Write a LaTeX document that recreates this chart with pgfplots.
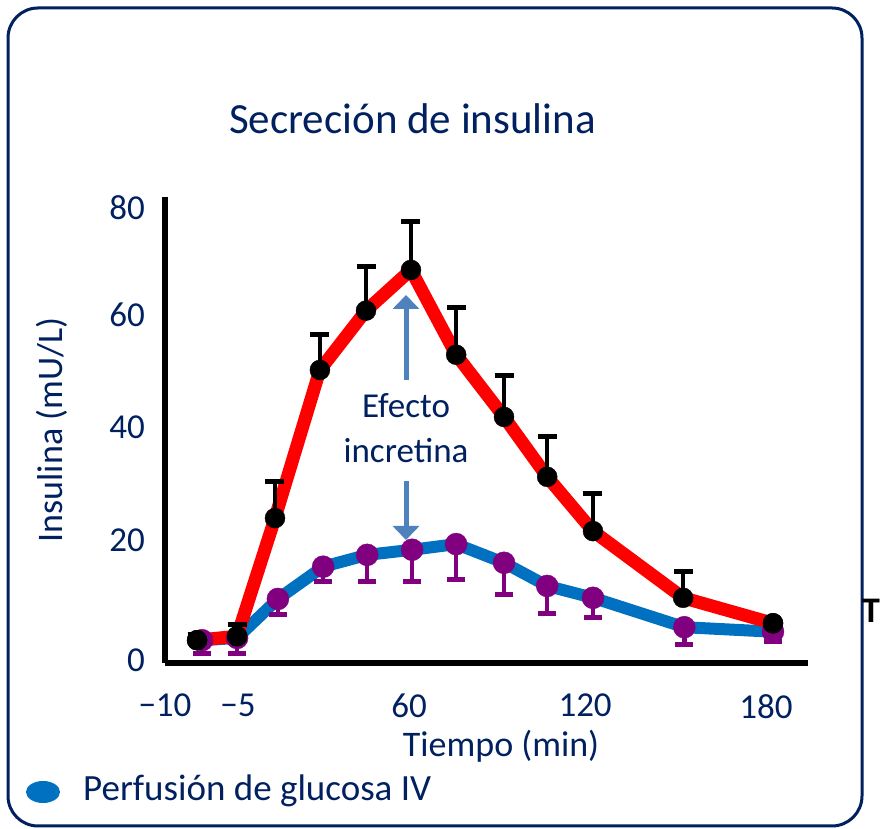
\documentclass[border=0pt]{standalone}
\usepackage{pgfplots}
\pgfplotsset{compat=1.18}
\usepackage{pgfplotstable}
\usepackage{fontspec}
\setmainfont{Carlito}
\usetikzlibrary{arrows.meta}
\definecolor{navy}{RGB}{0,32,96}
\definecolor{blueline}{RGB}{0,112,192}
\definecolor{purp}{RGB}{128,0,128}
\definecolor{arrowblue}{RGB}{79,129,189}

\pgfplotstableread{
x y e
-13 3.5 1.0
0.7 4.2 2.0
13.7 25.1 6.4
29.1 51.3 6.2
44.9 61.8 7.8
60.3 69.0 8.5
75.8 54.0 8.3
92.2 43.0 7.4
107.0 32.4 7.2
122.7 22.8 6.6
153.6 11.0 4.6
184.4 6.5 0
}\redtab

\pgfplotstableread{
x y
-13 3.5
0.7 4.2
184.4 6.5
}\redends

\pgfplotstableread{
x y e
-11.3 3.5 2.4
0.7 3.9 2.7
14.7 10.8 2.7
30.2 16.5 2.7
45.3 18.6 4.8
60.7 19.5 5.7
75.8 20.5 6.2
92.2 17.2 5.7
107.0 13.1 4.8
122.7 11.0 3.4
154.0 5.8 3.1
184.4 5.0 1.8
}\bluetab

\begin{document}
\begin{tikzpicture}[x=1pt,y=1pt]
\useasboundingbox (0,0) rectangle (881,829);
\draw[navy, line width=3pt, rounded corners=30pt] (8,3) rectangle (862,821);

\begin{axis}[
  at={(165pt,166pt)}, anchor=south west,
  scale only axis, width=643pt, height=466pt,
  xmin=-24, xmax=196.4, ymin=-0.53, ymax=81.9,
  axis lines*=left,
  axis line style={line width=5.5pt, black},
  xtick={-24,1,59.7,120,182},
  xticklabels={−10,−5,60,120,180},
  ytick={0,21.2,41.1,61.1,80},
  yticklabels={0,20,40,60,80},
  major tick length=0pt,
  /pgf/number format/assume math mode=true,
  tick label style={font=\fontsize{35}{42}\selectfont, text=navy},
  xticklabel style={anchor=north, inner sep=0pt, yshift=-31pt},
  yticklabel style={anchor=east, inner sep=0pt, xshift=-20pt},
  xlabel={Tiempo (min)},
  ylabel={Insulina (mU/L)},
  xlabel style={at={(axis description cs:0.5226,-0.2017)}, anchor=base, font=\fontsize{36}{42}\selectfont, text=navy, inner sep=0pt},
  ylabel style={at={(axis description cs:-0.1757,0.5)}, anchor=center, font=\fontsize{36}{42}\selectfont, text=navy, inner sep=0pt},
  clip=false,
]
% blue line
\addplot[blueline, line width=12pt, line join=round, mark=none] table[x=x,y=y] {\bluetab};
% purple markers with lower error bars
\addplot[only marks, mark=*, mark size=11pt, mark options={fill=purp, draw=purp},
  error bars/.cd, y dir=minus, y explicit,
  error mark=|,
  error bar style={purp, line width=4.5pt},
  error mark options={purp, line width=5pt, mark size=9pt}]
  table[x=x,y=y,y error=e] {\bluetab};
% black markers below red line
\addplot[only marks, mark=*, mark size=10pt, mark options={fill=black, draw=black}] table[x=x,y=y] {\redtab};
% red line with upper error bars
\addplot[red, line width=13pt, line join=round, mark=none,
  error bars/.cd, y dir=plus, y explicit,
  error mark=|,
  error bar style={black, line width=4.5pt},
  error mark options={black, line width=5pt, mark size=9.5pt}]
  table[x=x,y=y,y error=e] {\redtab};
% black markers on top at the ends
\addplot[only marks, mark=*, mark size=10pt, mark options={fill=black, draw=black}] table[x=x,y=y] {\redends};
\end{axis}

% title
\node[anchor=base, text=navy, font=\fontsize{43}{50}\selectfont, inner sep=0pt] at (412.5,695) {Secreción de insulina};

% incretin annotation
\draw[arrowblue, line width=5pt, -{Triangle[width=26pt,length=14pt]}] (406,449) -- (406,534);
\draw[arrowblue, line width=5pt, -{Triangle[width=26pt,length=14pt]}] (406,348) -- (406,289);
\node[anchor=base, text=navy, font=\fontsize{35}{42}\selectfont, inner sep=0pt] at (406,411) {Efecto};
\node[anchor=base, text=navy, font=\fontsize{35}{42}\selectfont, inner sep=0pt] at (406,366) {incretina};

% legend
\fill[blueline] (43,37) ellipse [x radius=17, y radius=11];
\node[anchor=base west, text=navy, font=\fontsize{37}{44}\selectfont, inner sep=0pt] at (83,28) {Perfusión de glucosa IV};

% stray cap outside the frame
\node[anchor=center, text=black, font=\bfseries\fontsize{36}{42}\selectfont, inner sep=0pt] at (871,218) {T};
\end{tikzpicture}
\end{document}
